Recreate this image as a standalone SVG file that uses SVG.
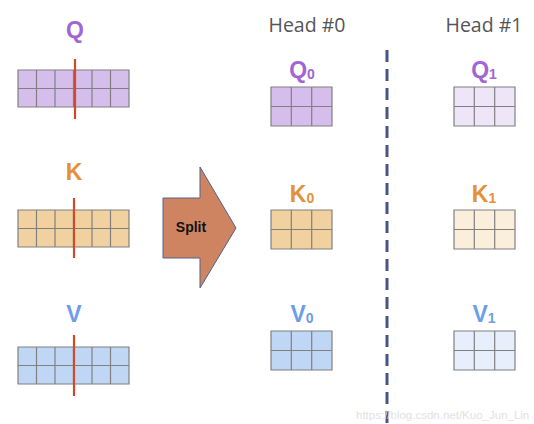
<svg xmlns="http://www.w3.org/2000/svg" width="534" height="424" viewBox="0 0 534 424">
  <style>
    .lbl { font-family: "Liberation Sans", Arial, sans-serif; font-weight: bold; font-size: 23px; text-anchor: middle; }
    .sub { font-size: 14px; }
    .head { font-family: "Open Sans", "Liberation Sans", sans-serif; font-size: 19.5px; fill: #555555; text-anchor: middle; }
    .grid { stroke: #808080; stroke-width: 1.2; }
    .cut { stroke: #D0492A; stroke-width: 2.2; }
    .q { fill: #A166D4; } .k { fill: #E39238; } .v { fill: #6E9DE9; }
  </style>
  <defs>
    <!-- 6x2 full matrix -->
    <g id="m6">
      <rect x="0" y="0" width="111" height="37"/>
      <path class="grid" fill="none" d="M0,0H111V37H0Z M0,18.5H111 M18.5,0V37 M37,0V37 M55.5,0V37 M74,0V37 M92.5,0V37"/>
    </g>
    <!-- 3x2 head slice -->
    <g id="m3">
      <rect x="0" y="0" width="61" height="39"/>
      <path class="grid" fill="none" d="M0,0H61V39H0Z M0,19.5H61 M20.3,0V39 M40.7,0V39"/>
    </g>
  </defs>

  <!-- full Q / K / V matrices -->
  <g id="Q">
    <text class="lbl q" x="75" y="38">Q</text>
    <use href="#m6" x="18" y="70" fill="#D5BEEC"/>
    <line class="cut" x1="75" y1="59" x2="75" y2="119"/>
  </g>
  <g id="K">
    <text class="lbl k" x="74" y="180">K</text>
    <use href="#m6" x="18" y="210" fill="#F1D1A0"/>
    <line class="cut" x1="74" y1="198" x2="74" y2="258"/>
  </g>
  <g id="V">
    <text class="lbl v" x="74" y="322">V</text>
    <use href="#m6" x="18" y="347" fill="#C0D6F5"/>
    <line class="cut" x1="74" y1="335" x2="74" y2="396"/>
  </g>

  <!-- split arrow -->
  <g id="split">
    <path d="M163,198H200V167L236,228L200,288V258H163Z" fill="#CF8461" stroke="#55608A" stroke-width="1"/>
    <text x="191" y="232" font-family="Liberation Sans, Arial, sans-serif" font-weight="bold" font-size="14" text-anchor="middle" fill="#111">Split</text>
  </g>

  <!-- head titles -->
  <text class="head" x="307" y="32">Head #0</text>
  <text class="head" x="484" y="32">Head #1</text>

  <!-- head 0 -->
  <g id="Q0">
    <text class="lbl q" x="302" y="78">Q<tspan class="sub" dy="1">0</tspan></text>
    <use href="#m3" x="271" y="87" fill="#D5BEEC"/>
  </g>
  <g id="K0">
    <text class="lbl k" x="302" y="202">K<tspan class="sub" dy="1">0</tspan></text>
    <use href="#m3" x="271" y="210" fill="#F1D1A0"/>
  </g>
  <g id="V0">
    <text class="lbl v" x="302" y="322">V<tspan class="sub" dy="1">0</tspan></text>
    <use href="#m3" x="271" y="331" fill="#C0D6F5"/>
  </g>

  <!-- head 1 -->
  <g id="Q1">
    <text class="lbl q" x="484" y="78">Q<tspan class="sub" dy="1">1</tspan></text>
    <use href="#m3" x="454" y="87" fill="#EFE5F8"/>
  </g>
  <g id="K1">
    <text class="lbl k" x="484" y="202">K<tspan class="sub" dy="1">1</tspan></text>
    <use href="#m3" x="454" y="210" fill="#FBEEDB"/>
  </g>
  <g id="V1">
    <text class="lbl v" x="484" y="322">V<tspan class="sub" dy="1">1</tspan></text>
    <use href="#m3" x="454" y="331" fill="#E7EFFC"/>
  </g>

  <!-- head divider -->
  <g id="connectors">
    <line x1="387" y1="50" x2="387" y2="424" stroke="#475584" stroke-width="3" stroke-dasharray="12 7"/>
  </g>

  <text x="356" y="419" font-family="Liberation Sans, Arial, sans-serif" font-size="11.5" fill="#E2E2E2">https://blog.csdn.net/Kuo_Jun_Lin</text>
</svg>
